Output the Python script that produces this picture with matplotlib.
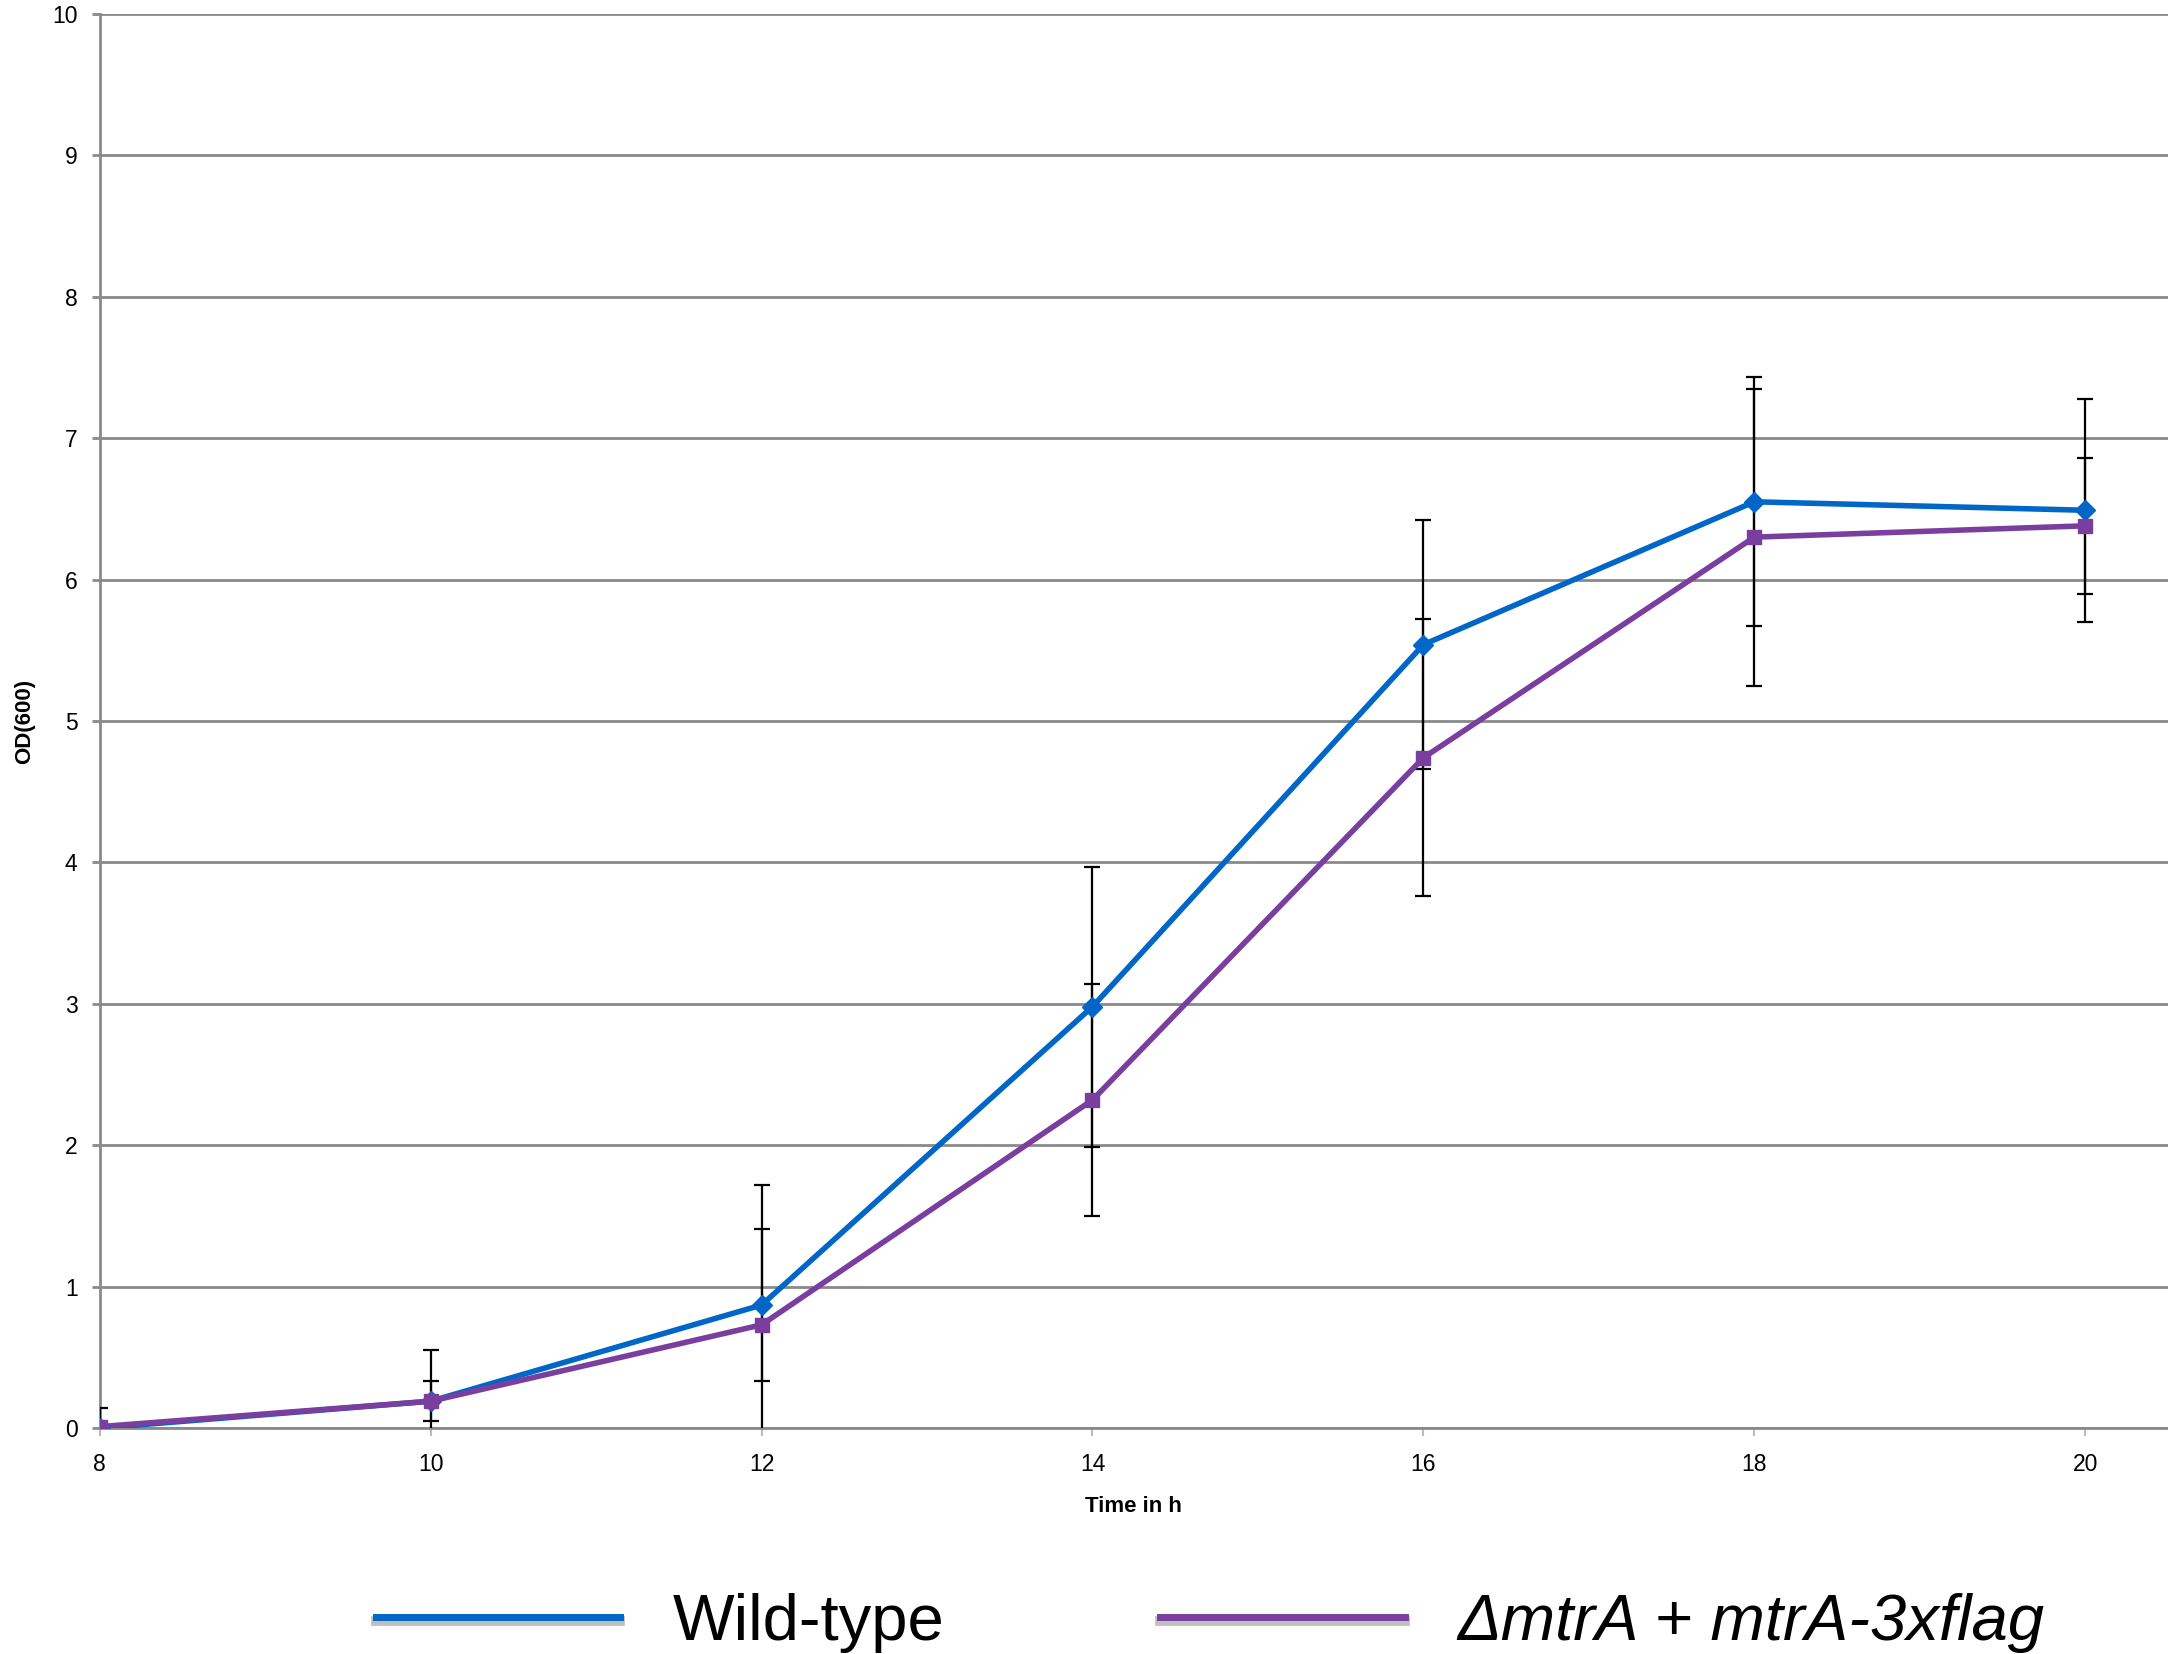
import numpy as np
import matplotlib
matplotlib.use("Agg")
import matplotlib.pyplot as plt
import matplotlib.patheffects as pe

# Growth curve, OD(600) over time
hours = [8, 10, 12, 14, 16, 18, 20]
wt_od = [0.00, 0.19, 0.87, 2.98, 5.54, 6.55, 6.49]
wt_err = [0.14, 0.14, 0.54, 0.99, 0.88, 0.88, 0.79]
mut_od = [0.01, 0.19, 0.73, 2.32, 4.74, 6.30, 6.38]
mut_err = [0.02, 0.36, 0.99, 0.82, 0.98, 1.05, 0.48]
labels = ["Wild-type", "ΔmtrA + mtrA-3xflag"]

blue = "#0066C8"
purple = "#7A3F9E"
grey = "#8A8A8A"

plt.rcParams["font.family"] = ["Liberation Sans", "DejaVu Sans"]

fig = plt.figure(figsize=(21.68, 16.54), dpi=100)
ax = fig.add_axes([0.046, 0.1366, 0.954, 0.855])

ax.errorbar(hours, wt_od, yerr=wt_err, fmt="none", ecolor="black",
            elinewidth=1.6, capsize=6, capthick=1.6, zorder=3)
ax.errorbar(hours, mut_od, yerr=mut_err, fmt="none", ecolor="black",
            elinewidth=1.6, capsize=6, capthick=1.6, zorder=3)
ax.plot(hours, wt_od, color=blue, lw=4, marker="D", ms=10, zorder=4,
        label=labels[0])
ax.plot(hours, mut_od, color=purple, lw=4, marker="s", ms=9.5, zorder=5,
        label=labels[1])

ax.set_xlim(8, 20.5)
ax.set_ylim(0, 10)
ax.set_xticks(np.arange(8, 21, 2))
ax.set_yticks(np.arange(0, 11, 1))
ax.yaxis.grid(True, color=grey, lw=2)
ax.set_axisbelow(True)

for s in ["top", "right"]:
    ax.spines[s].set_visible(False)
ax.spines["left"].set_color(grey)
ax.spines["left"].set_linewidth(2)
ax.spines["bottom"].set_color(grey)
ax.spines["bottom"].set_linewidth(2)
ax.tick_params(axis="y", direction="out", length=6, width=2, color=grey,
               labelsize=16.5, pad=10)
ax.tick_params(axis="x", direction="out", length=6, width=1.5, color="#BBBBBB",
               labelsize=16.5, pad=12)

ax.set_ylabel("OD(600)", fontsize=16, fontweight="bold", labelpad=12)
ax.set_xlabel("Time in h", fontsize=16, fontweight="bold", labelpad=14)

leg = fig.legend(loc="center", bbox_to_anchor=(0.558, 0.019), ncol=2,
                 frameon=False, handlelength=3.75,
                 handletextpad=0.8, columnspacing=3.3,
                 prop={"family": ["Liberation Sans", "DejaVu Sans"], "size": 47})
for line in leg.get_lines():
    line.set_marker("")
    line.set_linewidth(5)
    line.set_path_effects([pe.SimpleLineShadow(offset=(0, -3), alpha=0.25,
                                               linewidth=7),
                           pe.Normal()])
leg.get_texts()[1].set_style("italic")

fig.savefig("out.png", dpi=100)
